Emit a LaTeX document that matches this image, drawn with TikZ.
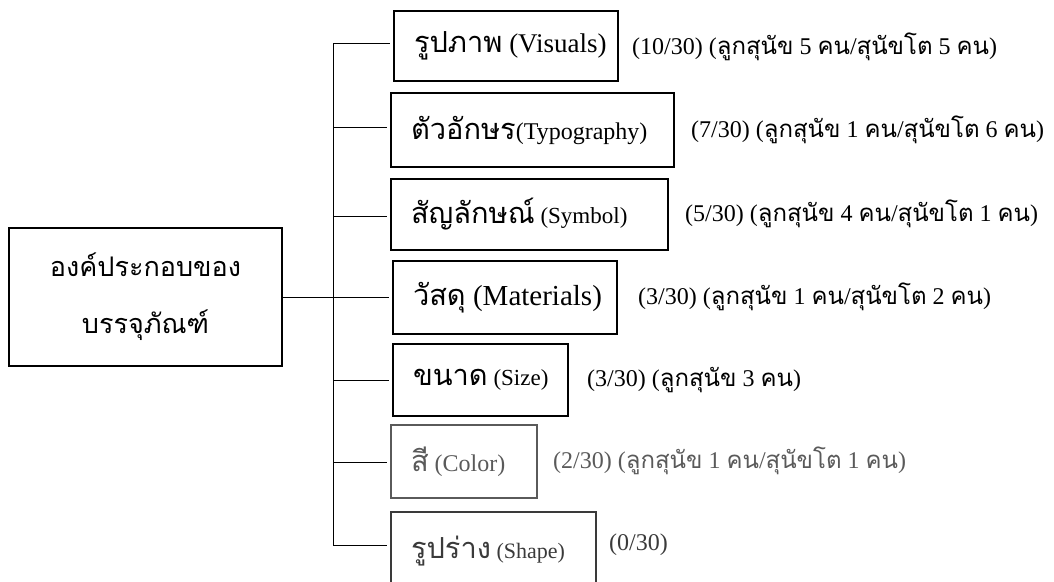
\documentclass[tikz,border=0pt]{standalone}
\usepackage{fontspec}
\setmainfont{Liberation Serif}
\newfontfamily\thai[Script=Thai]{Loma}
\definecolor{fadeA}{HTML}{5A5A5A}
\definecolor{fadeB}{HTML}{3A3A3A}
\newcommand{\thtxt}[1]{{\thai #1}}
\newcommand{\thbig}[1]{{\fontsize{29}{34}\selectfont\thai #1}}
\newcommand{\lat}[2]{{\fontsize{#1}{#1}\selectfont #2}}
\newcommand{\itm}[2]{\raisebox{-4pt}{\makebox[\dimexpr#1pt-40pt\relax][l]{#2}}}
\begin{document}
\begin{tikzpicture}[x=1pt,y=-1pt,
  boxstyle/.style={draw,line width=1.3pt,inner sep=0pt,align=center},
  mainstyle/.style={boxstyle,font=\fontsize{27}{57}\selectfont\thai},
  labelstyle/.style={anchor=west,inner sep=0pt,font=\fontsize{24}{28}\selectfont},
  conn/.style={line width=1pt}]
\useasboundingbox (0,0) rectangle (1054,581);
\node[mainstyle,minimum width=273pt,minimum height=138pt] (main) at (145.5,297) {องค์ประกอบของ\\บรรจุภัณฑ์};
\node[boxstyle,minimum width=224pt,minimum height=70pt] (b1) at (506,46) {\itm{224}{\thbig{รูปภาพ}\lat{27}{\ (Visuals)}}};
\node[boxstyle,minimum width=283pt,minimum height=74pt] (b2) at (532.5,130) {\itm{283}{\thbig{ตัวอักษร}\lat{24}{(Typography)}}};
\node[boxstyle,minimum width=277pt,minimum height=71pt] (b3) at (529.5,214.5) {\itm{277}{\thbig{สัญลักษณ์}\lat{23}{\ (Symbol)}}};
\node[boxstyle,minimum width=224pt,minimum height=73pt] (b4) at (505,297.5) {\itm{224}{\thbig{วัสดุ}\lat{29}{\ (Materials)}}};
\node[boxstyle,minimum width=175pt,minimum height=72pt] (b5) at (480.5,380) {\itm{175}{\thbig{ขนาด}\lat{23}{\ (Size)}}};
\node[boxstyle,draw=fadeA,text=fadeA,minimum width=146pt,minimum height=73pt] (b6) at (464,461.5) {\itm{146}{\thbig{สี}\lat{24}{\ (Color)}}};
\node[boxstyle,draw=fadeB,text=fadeB,minimum width=205pt,minimum height=78pt] (b7) at (493.5,551) {\itm{205}{\thbig{รูปร่าง}\lat{22}{\ (Shape)}}};
\node[labelstyle] (l1) at (632,47) {(10/30) (\thtxt{ลูกสุนัข} 5 \thtxt{คน}/\thtxt{สุนัขโต} 5 \thtxt{คน})};
\node[labelstyle] (l2) at (691,130) {(7/30) (\thtxt{ลูกสุนัข} 1 \thtxt{คน}/\thtxt{สุนัขโต} 6 \thtxt{คน})};
\node[labelstyle] (l3) at (685,214) {(5/30) (\thtxt{ลูกสุนัข} 4 \thtxt{คน}/\thtxt{สุนัขโต} 1 \thtxt{คน})};
\node[labelstyle] (l4) at (638,297) {(3/30) (\thtxt{ลูกสุนัข} 1 \thtxt{คน}/\thtxt{สุนัขโต} 2 \thtxt{คน})};
\node[labelstyle] (l5) at (587,380) {(3/30) (\thtxt{ลูกสุนัข} 3 \thtxt{คน})};
\node[labelstyle,text=fadeA] (l6) at (553,461) {(2/30) (\thtxt{ลูกสุนัข} 1 \thtxt{คน}/\thtxt{สุนัขโต} 1 \thtxt{คน})};
\node[labelstyle,text=fadeB] (l7) at (609,545) {(0/30)};
\coordinate (t1) at (333,43);
\coordinate (t2) at (333,127);
\coordinate (t3) at (333,216);
\coordinate (t4) at (333,297);
\coordinate (t5) at (333,380);
\coordinate (t6) at (333,462);
\coordinate (t7) at (333,545);
\draw[conn] (t1) -- (t7);
\draw[conn] (main.east |- t4) -- (t4);
\foreach \i in {1,...,7}{\draw[conn,shorten >=3pt] (t\i) -- (b\i.west |- t\i);}
\end{tikzpicture}
\end{document}
